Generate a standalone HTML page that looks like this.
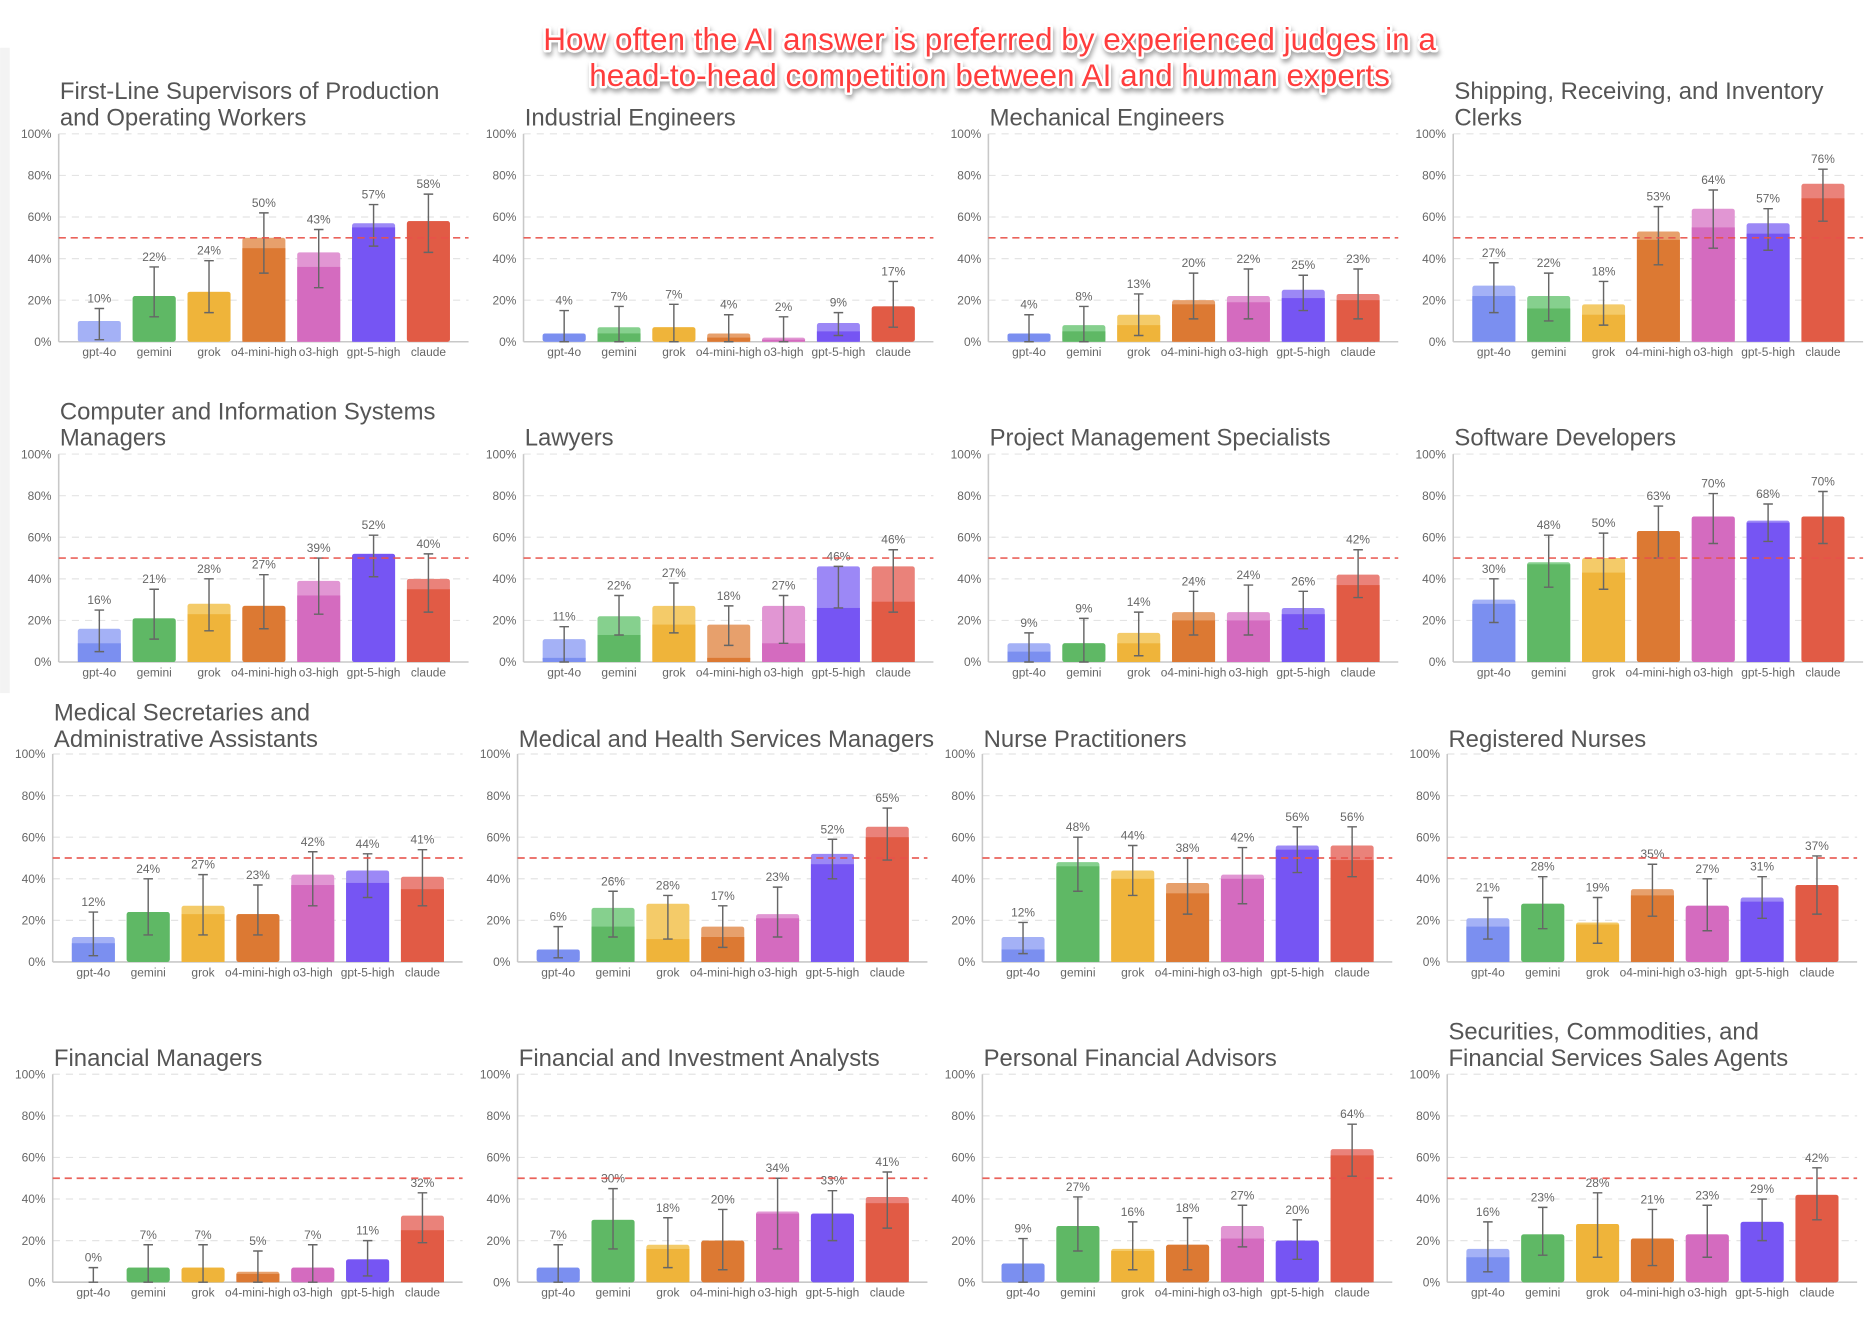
<!DOCTYPE html>
<html><head><meta charset="utf-8"><style>
html,body{margin:0;padding:0;background:#fff;}
svg{display:block;font-family:"Liberation Sans",sans-serif;}
</style></head><body>
<svg id="chart" width="1874" height="1330" viewBox="0 0 1568 1113" xmlns="http://www.w3.org/2000/svg">
<defs>
<filter id="sh" x="-5%" y="-20%" width="110%" height="150%"><feDropShadow dx="1" dy="3" stdDeviation="2" flood-color="#000" flood-opacity="0.35"/></filter>
</defs>
<rect x="0" y="40" width="8" height="540" fill="#f3f3f3"/>
<g filter="url(#sh)" font-size="26" fill="#ff3c3c" stroke="#fff" stroke-width="4" paint-order="stroke" stroke-linejoin="round" text-anchor="middle">
<text x="828" y="42" textLength="747" lengthAdjust="spacingAndGlyphs">How often the AI answer is preferred by experienced judges in a</text>
<text x="828" y="72" textLength="670" lengthAdjust="spacingAndGlyphs">head-to-head competition between AI and human experts</text>
</g>
<g id="panels"></g>
</svg>
<script>
const categories = ["gpt-4o","gemini","grok","o4-mini-high","o3-high","gpt-5-high","claude"];
const panelTitles = [
 ["First-Line Supervisors of Production","and Operating Workers"],["Industrial Engineers"],["Mechanical Engineers"],["Shipping, Receiving, and Inventory","Clerks"],
 ["Computer and Information Systems","Managers"],["Lawyers"],["Project Management Specialists"],["Software Developers"],
 ["Medical Secretaries and","Administrative Assistants"],["Medical and Health Services Managers"],["Nurse Practitioners"],["Registered Nurses"],
 ["Financial Managers"],["Financial and Investment Analysts"],["Personal Financial Advisors"],["Securities, Commodities, and","Financial Services Sales Agents"]
];
const values = [
 [10,22,24,50,43,57,58],[4,7,7,4,2,9,17],[4,8,13,20,22,25,23],[27,22,18,53,64,57,76],
 [16,21,28,27,39,52,40],[11,22,27,18,27,46,46],[9,9,14,24,24,26,42],[30,48,50,63,70,68,70],
 [12,24,27,23,42,44,41],[6,26,28,17,23,52,65],[12,48,44,38,42,56,56],[21,28,19,35,27,31,37],
 [0,7,7,5,7,11,32],[7,30,18,20,34,33,41],[9,27,16,18,27,20,64],[16,23,28,21,23,29,42]
];
const winValues = [
 [0,22,24,45,36,55,58],[4,4,7,2,1,5,17],[4,5,8,18,19,21,20],[22,16,13,49,55,52,69],
 [9,21,23,27,32,52,35],[2,13,18,2,9,26,29],[5,9,9,20,20,23,37],[28,47,43,63,70,67,70],
 [9,24,23,23,37,38,35],[6,17,11,12,21,47,60],[6,46,40,33,40,54,49],[17,28,18,32,27,29,37],
 [0,7,7,4,7,11,25],[7,30,16,20,33,33,38],[9,27,15,18,21,20,61],[12,23,28,21,23,29,42]
];
const errLow = [
 [1,12,14,33,26,46,43],[0,0,0,0,0,3,7],[0,0,3,11,11,15,11],[14,10,8,37,45,44,58],
 [5,11,15,16,23,41,24],[0,13,14,8,9,26,24],[0,0,3,13,13,16,31],[19,36,35,50,57,58,57],
 [3,13,13,13,27,31,27],[2,12,11,7,12,40,49],[4,34,32,23,28,43,41],[11,16,9,22,15,21,23],
 [0,0,0,0,0,3,19],[0,16,7,6,16,20,26],[0,15,6,6,17,11,51],[5,13,12,8,12,20,30]
];
const errHigh = [
 [16,36,39,62,54,66,71],[15,17,18,13,12,14,29],[13,17,23,33,35,32,35],[38,33,29,65,73,64,83],
 [25,35,40,42,50,61,52],[17,32,38,27,32,46,54],[14,21,24,34,37,34,54],[40,61,62,75,81,76,82],
 [24,40,42,37,53,52,54],[17,34,32,27,36,59,74],[19,60,56,50,55,65,65],[31,41,31,47,40,41,51],
 [7,18,18,15,18,20,43],[18,45,31,35,50,44,53],[21,41,29,31,37,30,76],[29,36,43,35,37,40,55]
];
const yTicks = [0,20,40,60,80,100];
const refLine = 50;

const darkCol = ["#7b8ff0","#5fb865","#efb43a","#dc7933","#d46bbf","#7655f3","#e15b45"];
const lightCol = ["#a4b1f6","#86d08e","#f4cb69","#e7a06c","#e196d3","#9c88f6","#ea827a"];
const NS = "http://www.w3.org/2000/svg";
const root = document.getElementById("panels");
function mk(tag, attrs, parent){const e=document.createElementNS(NS,tag);for(const k in attrs)e.setAttribute(k,attrs[k]);parent.appendChild(e);return e;}
const colX = [[49,438,827,1216],[49,438,827,1216],[44,433,822,1211],[44,433,822,1211]];
const rowY = [286,554,805,1073];
const titleBase = [[83,105],[351,373],[603,625],[870,892]];
const PH = 174, PW = 343;

panelTitles.forEach((title, p) => {
  const r = Math.floor(p/4), c = p%4;
  const x0 = colX[r][c], y0 = rowY[r];
  const g = mk("g", {}, root);
  
  
  const yS = v => y0 - v/100*PH;
  const xS = i => x0 + 34 + i*45.9;
  const tg = mk("g", {}, g);
  
  
  const lines = title.length === 2 ? title : [title[0]];
  const bases = title.length === 2 ? titleBase[r] : [titleBase[r][1]];
  lines.forEach((ln, k) => { const t = mk("text", {x:x0+1, y:bases[k], "font-size":20, fill:"#555"}, tg); t.textContent = ln; });
  yTicks.forEach(v => {
    if (v > 0) {
      const gl = mk("line", {x1:x0, x2:x0+PW, y1:yS(v), y2:yS(v), stroke:"#e4e4e4", "stroke-width":1, "stroke-dasharray":"6,5"}, g);
      
      
    }
    const tl = mk("text", {x:x0-6, y:yS(v)+3.5, "font-size":10, fill:"#666", "text-anchor":"end"}, g);
    tl.textContent = v + "%";
    
    
  });
  const ya = mk("line", {x1:x0, x2:x0, y1:yS(100), y2:y0, stroke:"#c8c8c8", "stroke-width":1.3}, g);
  
  
  const xa = mk("line", {x1:x0, x2:x0+PW, y1:y0, y2:y0, stroke:"#c8c8c8", "stroke-width":1.3}, g);
  
  
  categories.forEach((cat, i) => {
    const v = values[p][i], w = Math.min(winValues[p][i], v);
    const cx = xS(i), bw = 36;
    const bg = mk("g", {}, g);
    
    
    if (v > 0) mk("rect", {x:cx-bw/2, y:yS(v), width:bw, height:y0-yS(v), fill:lightCol[i], rx:2}, bg);
    if (w > 0) mk("rect", {x:cx-bw/2, y:yS(w), width:bw, height:y0-yS(w), fill:darkCol[i], rx: w===v?2:0}, bg);
    const lo = yS(errLow[p][i]), hi = yS(errHigh[p][i]);
    const eb = mk("path", {d:`M${cx},${lo}V${hi}M${cx-4},${lo}H${cx+4}M${cx-4},${hi}H${cx+4}`, stroke:"#666", "stroke-width":1.2, fill:"none"}, g);
    
    
    const vl = mk("text", {x:cx, y:hi-5, "font-size":10, fill:"#666", "text-anchor":"middle"}, g);
    vl.textContent = v + "%";
    
    
    const cl = mk("text", {x:cx, y:y0+12, "font-size":10, fill:"#666", "text-anchor":"middle"}, g);
    cl.textContent = cat;
    
    
  });
  const rl = mk("line", {x1:x0, x2:x0+PW, y1:yS(refLine), y2:yS(refLine), stroke:"#e8524a", "stroke-width":1.4, "stroke-dasharray":"6,4", opacity:0.9}, g);
  
  
});
</script>
</body></html>
